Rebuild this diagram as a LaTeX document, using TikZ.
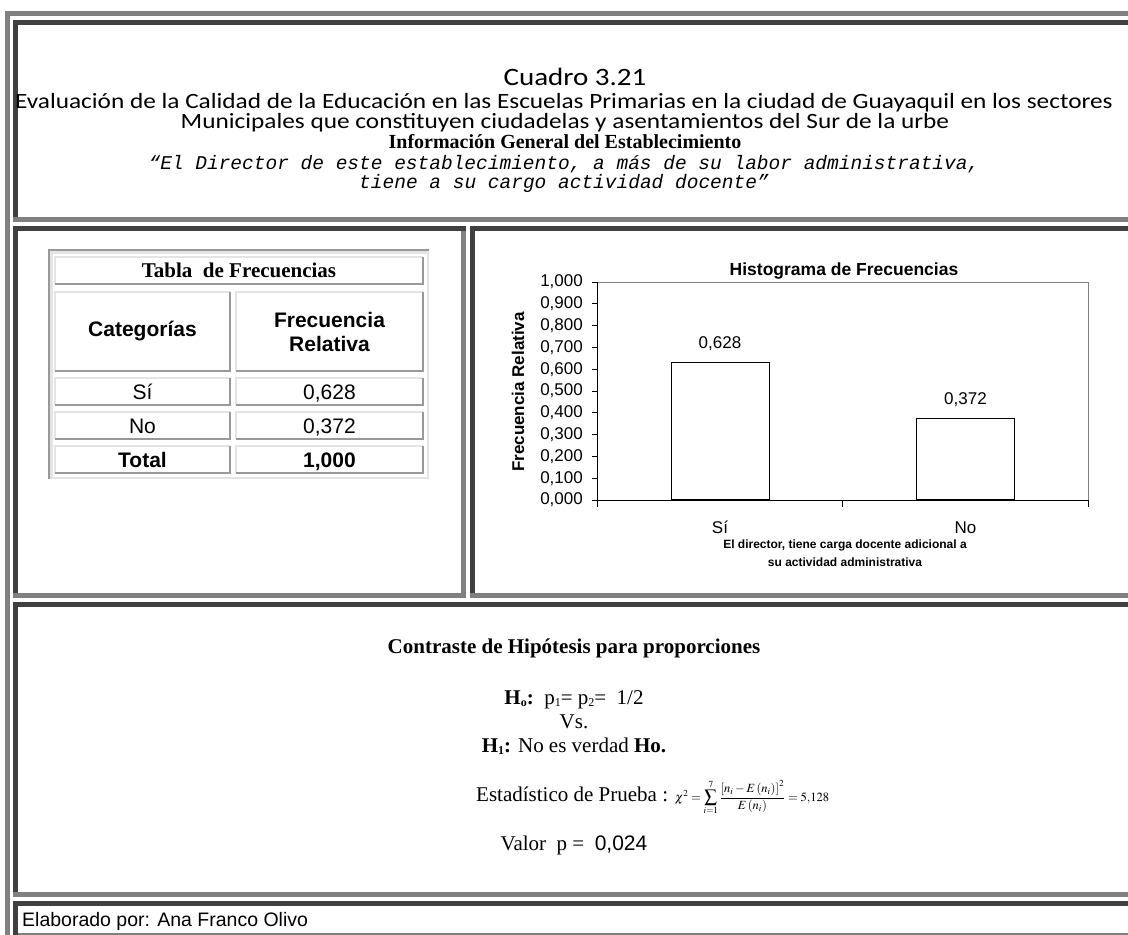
\documentclass[tikz,border=0pt]{standalone}
\usepackage{mathptmx}
\usepackage{fontspec}
\setmainfont{Liberation Serif}
\setsansfont{Liberation Sans}
\setmonofont{Liberation Mono}
\newfontfamily\cuadrofont[FakeStretch = 1.16]{Carlito}
\usetikzlibrary{positioning}

\definecolor{bordeClaro}{HTML}{808080}
\definecolor{bordeOscuro}{HTML}{404040}
\definecolor{celdaClara}{HTML}{E4E4E4}
\definecolor{celdaOscura}{HTML}{999999}
\definecolor{marcoGris}{HTML}{808080}

\begin{document}
\begin{tikzpicture}[x = 1pt, y = -1pt, font = \sffamily]
	\tikzstyle{claroStyle} = [fill = bordeClaro]
	\tikzstyle{oscuroStyle} = [fill = bordeOscuro]
	\tikzstyle{textoStyle} = [inner sep = 0pt, anchor = base]
	\tikzstyle{celdaStyle} = [inner sep = 0pt, align = center, font = \sffamily\fontsize{21}{24}\selectfont]
	\tikzstyle{numeroStyle} = [celdaStyle, text height = 15pt, text depth = 0pt]
	\tikzstyle{altoStyle} = [draw = celdaClara, line width = 2pt]
	\tikzstyle{bajoStyle} = [draw = celdaOscura, line width = 2pt]
	\tikzstyle{ejeStyle} = [inner sep = 0pt, font = \sffamily\fontsize{17}{20}\selectfont]
	\tikzstyle{barraStyle} = [draw, fill = white, line width = 0.9pt, minimum width = 98pt, inner sep = 0pt, anchor = south]

	\useasboundingbox[fill = white] (0,0) rectangle (1128,935);
	% marco exterior
	\fill[claroStyle] (5,11) rectangle (10,935);
	\fill[claroStyle] (5,11) rectangle (1128,16);
	% celda del titulo
	\fill[oscuroStyle] (13,20) rectangle (1128,25);
	\fill[oscuroStyle] (13,20) rectangle (18,217);
	\fill[claroStyle] (13,217) rectangle (1128,222);
	% celda de la tabla
	\fill[oscuroStyle] (13,226) rectangle (466,231);
	\fill[oscuroStyle] (13,226) rectangle (18,593);
	\fill[claroStyle] (461,231) rectangle (466,598);
	\fill[claroStyle] (13,593) rectangle (466,598);
	% celda del histograma
	\fill[oscuroStyle] (470,226) rectangle (1128,231);
	\fill[oscuroStyle] (470,226) rectangle (475,593);
	\fill[claroStyle] (470,593) rectangle (1128,598);
	% celda del contraste
	\fill[oscuroStyle] (13,602) rectangle (1128,607);
	\fill[oscuroStyle] (13,602) rectangle (18,892);
	\fill[claroStyle] (13,892) rectangle (1128,897);
	% celda del pie
	\fill[oscuroStyle] (13,901) rectangle (1128,906);
	\fill[oscuroStyle] (13,901) rectangle (18,935);
	\fill[claroStyle] (18,933) rectangle (1128,935);

	% titulo
	\node[textoStyle, font = \cuadrofont\fontsize{25}{28}\selectfont] (cuadro) at (575,85) {Cuadro 3.21};
	\node[textoStyle, font = \cuadrofont\fontsize{21.8}{26}\selectfont] (evaluacion) at (564,108) {Evaluación de la Calidad de la Educación en las Escuelas Primarias en la ciudad de Guayaquil en los sectores};
	\node[textoStyle, font = \cuadrofont\fontsize{21.8}{26}\selectfont] (municipales) at (565,128) {Municipales que constituyen ciudadelas y asentamientos del Sur de la urbe};
	\node[textoStyle, font = \rmfamily\bfseries\fontsize{20}{24}\selectfont] (informacion) at (565,148) {Información General del Establecimiento};
	\node[textoStyle, font = \ttfamily\itshape\fontsize{19.5}{22}\selectfont] (pregunta1) at (564,169) {“El Director de este establecimiento, a más de su labor administrativa,};
	\node[textoStyle, font = \ttfamily\itshape\fontsize{19.5}{22}\selectfont] (pregunta2) at (564,188) {tiene a su cargo actividad docente”};

	% tabla de frecuencias
	\draw[draw = celdaOscura, line width = 1.5pt] (49,479) -- (49,250) -- (429,250);
	\draw[draw = celdaClara, line width = 2.5pt] (51.5,252.5) rectangle (428,478);
	\node[celdaStyle, minimum width = 368pt, minimum height = 27pt] (tabla) at (239,270.5) {\rmfamily\bfseries Tabla\ \ de Frecuencias};
	\node[celdaStyle, minimum width = 175pt, minimum height = 79pt] (categorias) at (142.5,331.5) {\bfseries Categorías};
	\node[celdaStyle, minimum width = 187pt, minimum height = 79pt] (frecuencia) at (329.5,331.5) {\bfseries Frecuencia\\\bfseries Relativa};
	\node[numeroStyle, minimum width = 175pt, minimum height = 27pt] (catSi) at (142.5,391.5) {Sí};
	\node[numeroStyle, minimum width = 187pt, minimum height = 27pt] (frecSi) at (329.5,391.5) {0,628};
	\node[numeroStyle, minimum width = 175pt, minimum height = 27pt] (catNo) at (142.5,425.5) {No};
	\node[numeroStyle, minimum width = 187pt, minimum height = 27pt] (frecNo) at (329.5,425.5) {0,372};
	\node[numeroStyle, minimum width = 175pt, minimum height = 27pt] (catTotal) at (142.5,459.5) {\bfseries Total};
	\node[numeroStyle, minimum width = 187pt, minimum height = 27pt] (frecTotal) at (329.5,459.5) {\bfseries 1,000};
	\foreach \celda in {tabla, categorias, frecuencia, catSi, frecSi, catNo, frecNo, catTotal, frecTotal} {
		\draw[altoStyle] (\celda.south west) -- (\celda.north west) -- (\celda.north east);
		\draw[bajoStyle] (\celda.south west) -- (\celda.south east) -- (\celda.north east);
	}

	% histograma
	\node[ejeStyle, font = \sffamily\bfseries\fontsize{17.5}{20}\selectfont] (histograma) at (844,271) {Histograma de Frecuencias};
	\draw[marcoGris, line width = 1pt] (597,282) -- (1088,282) -- (1088,500);
	\draw[line width = 1pt] (597,282) -- (597,500) -- (1088,500);
	\foreach \i/\valor in {0/{0,000}, 1/{0,100}, 2/{0,200}, 3/{0,300}, 4/{0,400}, 5/{0,500}, 6/{0,600}, 7/{0,700}, 8/{0,800}, 9/{0,900}, 10/{1,000}} {
		\draw[line width = 1pt] (592,{500-21.8*\i}) -- (597,{500-21.8*\i});
		\node[ejeStyle, anchor = east] (marca\i) at (583,{500-21.8*\i}) {\valor};
	}
	\foreach \x in {597, 842.5, 1088}
		\draw[line width = 1pt] (\x,500) -- (\x,507);
	\node[barraStyle, minimum height = 137pt] (barraSi) at (720,500) {};
	\node[barraStyle, minimum height = 81pt] (barraNo) at (965.5,500) {};
	\node[ejeStyle, above = 11pt of barraSi] (valorSi) {0,628};
	\node[ejeStyle, above = 11pt of barraNo] (valorNo) {0,372};
	\node[textoStyle, font = \sffamily\fontsize{17}{20}\selectfont] (etiquetaSi) at (720,533) {Sí};
	\node[textoStyle, font = \sffamily\fontsize{17}{20}\selectfont] (etiquetaNo) at (965.5,533) {No};
	\node[textoStyle, font = \sffamily\bfseries\fontsize{12}{14}\selectfont] (ejeX1) at (845,548) {El director, tiene carga docente adicional a};
	\node[textoStyle, font = \sffamily\bfseries\fontsize{12}{14}\selectfont] (ejeX2) at (845,566) {su actividad administrativa};
	\node[rotate = 90, inner sep = 0pt, font = \sffamily\bfseries\fontsize{17}{20}\selectfont] (ejeY) at (518,392) {Frecuencia Relativa};

	% contraste de hipotesis
	\node[textoStyle, font = \rmfamily\bfseries\fontsize{21}{24}\selectfont] (contraste) at (574,653) {Contraste de Hipótesis para proporciones};
	\node[textoStyle, font = \rmfamily\fontsize{21}{24}\selectfont] (hipNula) at (574,704) {\textbf{H\raisebox{-2.5pt}{\fontsize{12}{12}\selectfont o}:}\ \ p\raisebox{-2.5pt}{\fontsize{12}{12}\selectfont 1}= p\raisebox{-2.5pt}{\fontsize{12}{12}\selectfont 2}=\ \ 1/2};
	\node[textoStyle, font = \rmfamily\fontsize{21}{24}\selectfont] (versus) at (574,728) {Vs.};
	\node[textoStyle, font = \rmfamily\fontsize{21}{24}\selectfont] (hipAlt) at (574,752) {\textbf{H\raisebox{-2.5pt}{\fontsize{12}{12}\selectfont 1}:} No es verdad \textbf{Ho.}};
	\node[textoStyle, anchor = base west, font = \rmfamily\fontsize{21}{24}\selectfont] (estadistico) at (476,801) {Estadístico de Prueba : {\fontsize{12.5}{15}\selectfont$\chi^{2}=\displaystyle\sum_{i=1}^{7}\frac{\left[n_{i}-E\left(n_{i}\right)\right]^{2}}{E\left(n_{i}\right)}=5{,}128$}};
	\node[textoStyle, font = \rmfamily\fontsize{21}{24}\selectfont] (valorP) at (574,850) {Valor\ \ p =\ \ {\sffamily 0,024}};

	% pie
	\node[textoStyle, anchor = base west, font = \sffamily\fontsize{19.5}{22}\selectfont] (elaborado) at (22,926) {Elaborado por: Ana Franco Olivo};
\end{tikzpicture}
\end{document}
